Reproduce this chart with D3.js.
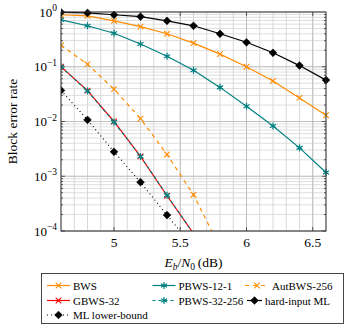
<!DOCTYPE html>
<html><head><meta charset="utf-8">
<script src="https://cdn.jsdelivr.net/npm/d3@7"></script>
<style>body{margin:0;background:#fff}svg{display:block}text{font-family:"Liberation Serif","DejaVu Serif",serif;fill:#000}</style>
</head><body><svg id="c" width="350" height="326"></svg>
<script>
const ebn0 = [4.6, 4.8, 5.0, 5.2, 5.4, 5.6, 5.8, 6.0, 6.2, 6.4, 6.6];
const hardML   = [0.985, 0.96, 0.89, 0.82, 0.69, 0.56, 0.40, 0.28, 0.18, 0.105, 0.057];
const bws      = [0.89, 0.85, 0.69, 0.54, 0.40, 0.27, 0.17, 0.10, 0.055, 0.027, 0.013];
const pbws121  = [0.72, 0.56, 0.41, 0.26, 0.155, 0.086, 0.042, 0.019, 0.0083, 0.0033, 0.00117];
const autbws   = [0.247, 0.111, 0.039, 0.0113, 0.0025, 0.00046, 0.00005];
const gbws32   = [0.1, 0.0367, 0.01, 0.0023, 0.00044, 0.00009];
const pbws32   = [0.1, 0.036, 0.0098, 0.0023, 0.00045, 0.00009];
const mlLower  = [0.037, 0.0107, 0.0028, 0.00078, 0.000195, 0.00005];
const xTicks = [5, 5.5, 6, 6.5];
const yTicks = [1, 0.1, 0.01, 0.001, 0.0001];
const yTickExp = ["0", "\u22121", "\u22122", "\u22123", "\u22124"];

const series = [
  {name:"GBWS-32", data:gbws32, color:"#ff0000", dash:null, mark:"x", lw:1.2},
  {name:"PBWS-32-256", data:pbws32, color:"#008080", dash:"3,3", mark:"star", lw:1.2},
  {name:"ML lower-bound", data:mlLower, color:"#000", dash:"1,3", mark:"diamond", lw:1.1},
  {name:"AutBWS-256", data:autbws, color:"#ff8c00", dash:"4,4", mark:"x", lw:1.2},
  {name:"PBWS-12-1", data:pbws121, color:"#008080", dash:null, mark:"star", lw:1.2},
  {name:"BWS", data:bws, color:"#ff8c00", dash:null, mark:"x", lw:1.2},
  {name:"hard-input ML", data:hardML, color:"#000", dash:null, mark:"diamond", lw:1.2}
];
const legendOrder = [
  {name:"BWS", col:0, row:0, len:23, tx:26}, {name:"PBWS-12-1", col:1, row:0, len:23, tx:26}, {name:"AutBWS-256", col:2, row:0, len:24, tx:27},
  {name:"GBWS-32", col:0, row:1, len:23, tx:26}, {name:"PBWS-32-256", col:1, row:1, len:23, tx:26}, {name:"hard-input ML", col:2, row:1, len:15, tx:18},
  {name:"ML lower-bound", col:0, row:2, len:23, tx:26}
];

const L=61, R=326, T=12, B=231;
const svg = d3.select("#c");
const x = d3.scaleLinear().domain([4.6, 6.6]).range([L, R]);
const y = d3.scaleLog().domain([1e-4, 1]).range([B, T]);

// grid
const g = svg.append("g");
const minorX = d3.range(46, 67).map(v => v/10);
g.selectAll(".gx").data(minorX).join("line")
  .attr("x1", d=>x(d)).attr("x2", d=>x(d)).attr("y1", T).attr("y2", B)
  .attr("stroke", "#cfcfcf").attr("stroke-width", 0.8);
const minorY = [];
for (let e=-4; e<0; e++) for (let m=1; m<10; m++) minorY.push(m*Math.pow(10,e));
g.selectAll(".gy").data(minorY).join("line")
  .attr("x1", L).attr("x2", R).attr("y1", d=>y(d)).attr("y2", d=>y(d))
  .attr("stroke", "#d6d6d6").attr("stroke-width", 0.8);
g.selectAll(".gyM").data(yTicks).join("line")
  .attr("x1", L).attr("x2", R).attr("y1", d=>y(d)).attr("y2", d=>y(d))
  .attr("stroke", "#b8b8b8").attr("stroke-width", 0.8);
g.selectAll(".gxM").data(xTicks).join("line")
  .attr("x1", d=>x(d)).attr("x2", d=>x(d)).attr("y1", T).attr("y2", B)
  .attr("stroke", "#b8b8b8").attr("stroke-width", 0.8);

// ticks (inward, both sides)
const tk = svg.append("g").attr("stroke", "#333").attr("stroke-width", 0.8);
xTicks.forEach(v => {
  tk.append("line").attr("x1", x(v)).attr("x2", x(v)).attr("y1", B).attr("y2", B-4);
  tk.append("line").attr("x1", x(v)).attr("x2", x(v)).attr("y1", T).attr("y2", T+4);
});
minorY.forEach(v => {
  const len = (yTicks.includes(v)) ? 4 : 2;
  tk.append("line").attr("x1", L).attr("x2", L+len).attr("y1", y(v)).attr("y2", y(v));
  tk.append("line").attr("x1", R).attr("x2", R-len).attr("y1", y(v)).attr("y2", y(v));
});

// clip
svg.append("clipPath").attr("id","clip").append("rect")
  .attr("x", L).attr("y", T-4).attr("width", R-L+4).attr("height", B-T+4);

const symX = d3.symbol().type(d3.symbolX).size(22);
const symStar = d3.symbol().type(d3.symbolAsterisk).size(34);
const symDia = d3.symbol().type(d3.symbolDiamond2).size(38);
function drawMark(sel, mark, color) {
  if (mark === "x") sel.append("path").attr("d", symX()).attr("fill","none").attr("stroke", color).attr("stroke-width", 1.1);
  else if (mark === "star") sel.append("path").attr("d", symStar()).attr("fill","none").attr("stroke", color).attr("stroke-width", 1.2);
  else sel.append("path").attr("d", symDia()).attr("fill", color).attr("stroke", color).attr("stroke-width", 0.6);
}

const plot = svg.append("g").attr("clip-path", "url(#clip)");
const line = d3.line().x((d,i)=>x(ebn0[i])).y(d=>y(d));
series.forEach(s => {
  const pts = s.data;
  const p = plot.append("path").datum(pts).attr("d", line)
    .attr("fill","none").attr("stroke", s.color).attr("stroke-width", s.lw);
  if (s.dash) p.attr("stroke-dasharray", s.dash);
  pts.forEach((v,i) => {
    if (v < 1e-4) return;
    const m = plot.append("g").attr("transform", `translate(${x(ebn0[i])},${y(v)})`);
    drawMark(m, s.mark, s.color);
  });
});

// frame
svg.append("rect").attr("x", L).attr("y", T).attr("width", R-L).attr("height", B-T)
  .attr("fill","none").attr("stroke","#333").attr("stroke-width", 1);

// tick labels
xTicks.forEach(v => {
  svg.append("text").attr("x", x(v)).attr("y", 246.5).attr("text-anchor","middle")
    .attr("font-size", 13.5).text(String(v));
});
yTicks.forEach((v,i) => {
  const t = svg.append("text").attr("x", 57).attr("y", y(v)+4.5).attr("text-anchor","end").attr("font-size", 13);
  t.append("tspan").text("10");
  t.append("tspan").attr("dy", -5.5).attr("font-size", 9.5).text(yTickExp[i]);
});

// axis labels
svg.append("text").attr("transform", `translate(17,${(T+B)/2}) rotate(-90)`)
  .attr("text-anchor","middle").attr("font-size", 13.5).text("Block error rate");
const xl = svg.append("text").attr("x", (L+R)/2).attr("y", 267).attr("text-anchor","middle").attr("font-size", 13.5);
xl.append("tspan").attr("font-style","italic").text("E");
xl.append("tspan").attr("font-style","italic").attr("font-size", 9.5).attr("dy", 2.5).text("b");
xl.append("tspan").attr("dy", -2.5).text("/");
xl.append("tspan").attr("font-style","italic").text("N");
xl.append("tspan").attr("font-size", 9.5).attr("dy", 2.5).text("0");
xl.append("tspan").attr("dy", -2.5).text("\u2009(dB)");

// legend
svg.append("rect").attr("x", 41.5).attr("y", 273.5).attr("width", 302).attr("height", 50)
  .attr("fill","#fff").attr("stroke","#333").attr("stroke-width", 0.9);
const colX = [47, 152.5, 245];
const rowY = [285.5, 300.5, 315];
legendOrder.forEach(e => {
  const s = series.find(q => q.name === e.name);
  let lx = colX[e.col];
  if (e.name === "hard-input ML") lx += 2;
  const ly = rowY[e.row];
  const lg = svg.append("g");
  const ln = lg.append("line").attr("x1", lx).attr("x2", lx+e.len).attr("y1", ly).attr("y2", ly)
    .attr("stroke", s.color).attr("stroke-width", s.lw);
  if (s.dash) ln.attr("stroke-dasharray", s.dash);
  drawMark(lg.append("g").attr("transform", `translate(${lx+e.len/2},${ly})`), s.mark, s.color);
  lg.append("text").attr("x", lx+e.tx).attr("y", ly+4).attr("font-size", 11).text(s.name);
});
</script></body></html>
